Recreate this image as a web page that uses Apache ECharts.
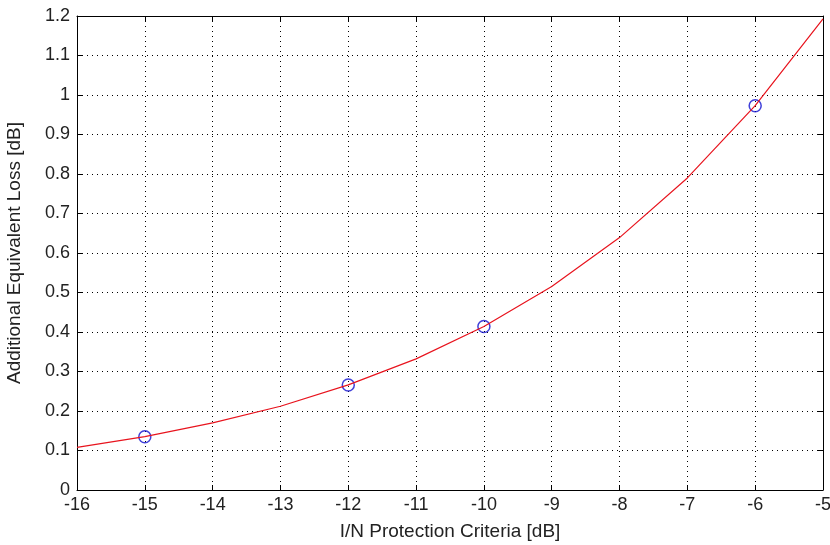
<!DOCTYPE html>
<html><head><meta charset="utf-8">
<script src="https://cdn.jsdelivr.net/npm/echarts@6/dist/echarts.min.js"></script>
<style>html,body{margin:0;padding:0;background:#fff}#c{width:830px;height:545px}</style>
</head><body><div id="c"></div>
<script>
const curveX = [-16,-15,-14,-13,-12,-11,-10,-9,-8,-7,-6,-5];
const curveY = [0.108,0.135,0.170,0.212,0.266,0.332,0.414,0.515,0.639,0.790,0.973,1.193];
const markX = [-15,-12,-10,-6];
const markY = [0.135,0.266,0.414,0.973];
const xTicks = [-16,-15,-14,-13,-12,-11,-10,-9,-8,-7,-6,-5];
const yTicks = [0,0.1,0.2,0.3,0.4,0.5,0.6,0.7,0.8,0.9,1,1.1,1.2];
const xTitle = 'I/N Protection Criteria [dB]';
const yTitle = 'Additional Equivalent Loss [dB]';

const font = 'Liberation Sans, Arial, sans-serif';
const chart = echarts.init(document.getElementById('c'));
const gridLine = {show:true, lineStyle:{color:'#000', type:[1,4], width:1}};
const tickInside = {show:true, inside:true, length:5, lineStyle:{color:'#000'}};
chart.setOption({
  animation:false,
  grid:{left:77, right:7, top:16, bottom:55, show:false, containLabel:false, outerBoundsMode:'none'},
  xAxis:[{
    type:'value', min:-16, max:-5, interval:1, position:'bottom',
    name:xTitle, nameLocation:'middle', nameGap:32,
    nameTextStyle:{fontFamily:font, fontSize:19, color:'#222'},
    axisLine:{show:true, onZero:false, lineStyle:{color:'#000', width:1}},
    axisTick:tickInside, splitLine:gridLine,
    axisLabel:{fontFamily:font, fontSize:18, color:'#222', margin:6,
      formatter:v=>xTicks.includes(v)?String(v):''}
  },{
    type:'value', min:-16, max:-5, interval:1, position:'top',
    axisLine:{show:true, onZero:false, lineStyle:{color:'#000'}},
    axisTick:tickInside, axisLabel:{show:false}, splitLine:{show:false}
  }],
  yAxis:[{
    type:'value', min:0, max:1.2, interval:0.1, position:'left',
    name:yTitle, nameLocation:'middle', nameGap:53,
    nameTextStyle:{fontFamily:font, fontSize:19, color:'#222'},
    axisLine:{show:true, onZero:false, lineStyle:{color:'#000', width:1}},
    axisTick:tickInside, splitLine:gridLine,
    axisLabel:{fontFamily:font, fontSize:18, color:'#222', margin:7,
      formatter:v=>{const r=Math.round(v*10)/10; return yTicks.includes(r)?String(r):'';}}
  },{
    type:'value', min:0, max:1.2, interval:0.1, position:'right',
    axisLine:{show:true, onZero:false, lineStyle:{color:'#000'}},
    axisTick:tickInside, axisLabel:{show:false}, splitLine:{show:false}
  }],
  series:[{
    type:'line', data:curveX.map((x,i)=>[x,curveY[i]]), showSymbol:false,
    lineStyle:{color:'#e8141e', width:1.2}, itemStyle:{color:'#e8141e'}
  },{
    type:'scatter', data:markX.map((x,i)=>[x,markY[i]]),
    symbol:'circle', symbolSize:12,
    itemStyle:{color:'rgba(0,0,0,0)', borderColor:'#1010d0', borderWidth:1.5}
  }]
});
</script></body></html>
